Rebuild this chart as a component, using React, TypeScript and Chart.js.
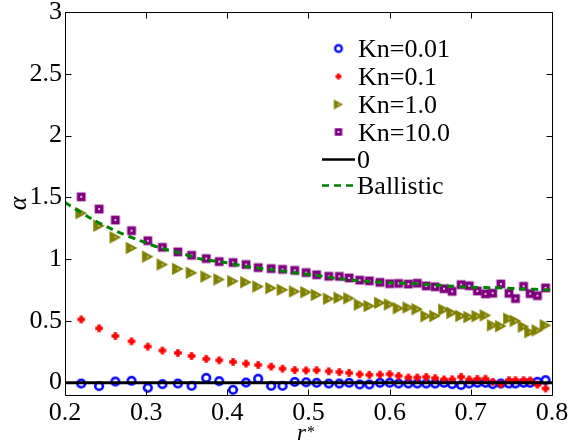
import React, { useEffect, useRef } from 'react';
import { Chart, registerables } from 'chart.js';

Chart.register(...registerables);

// ---- data ----
const rStar = [
  0.220, 0.242, 0.262, 0.282, 0.302, 0.320, 0.339, 0.356, 0.374, 0.390, 0.407,
  0.423, 0.438, 0.454, 0.468, 0.483, 0.497, 0.510, 0.525, 0.538, 0.550, 0.563,
  0.575, 0.588, 0.600, 0.611, 0.623, 0.634, 0.645, 0.656, 0.667, 0.677, 0.688,
  0.698, 0.708, 0.718, 0.727, 0.737, 0.747, 0.755, 0.765, 0.773, 0.782, 0.792,
];
const kn001 = [
  -0.007, -0.028, 0.009, 0.015, -0.041, -0.012, -0.007, -0.026, 0.039, 0.012, -0.058,
  0.001, 0.032, -0.026, -0.026, 0.006, 0.003, -0.001, -0.007, -0.007, -0.001, -0.015,
  -0.015, -0.001, -0.001, -0.007, -0.007, -0.007, -0.007, -0.007, -0.001, -0.012, -0.020,
  -0.007, -0.001, -0.001, -0.012, -0.007, -0.007, -0.007, -0.001, -0.001, 0.007, 0.020,
];
const kn01 = [
  0.512, 0.440, 0.378, 0.335, 0.292, 0.260, 0.240, 0.216, 0.192, 0.181, 0.168,
  0.154, 0.143, 0.130, 0.113, 0.102, 0.099, 0.101, 0.092, 0.086, 0.079, 0.067,
  0.063, 0.065, 0.069, 0.055, 0.042, 0.042, 0.046, 0.037, 0.026, 0.027, 0.047,
  0.026, 0.031, 0.032, 0.006, -0.012, 0.020, 0.020, 0.020, 0.018, -0.016, -0.047,
];
const kn1 = [
  1.372, 1.270, 1.176, 1.090, 1.020, 0.956, 0.921, 0.889, 0.859, 0.835, 0.821,
  0.813, 0.778, 0.765, 0.751, 0.738, 0.732, 0.710, 0.679, 0.687, 0.683, 0.632,
  0.620, 0.646, 0.633, 0.602, 0.608, 0.595, 0.538, 0.539, 0.591, 0.565, 0.540,
  0.531, 0.538, 0.544, 0.464, 0.457, 0.518, 0.500, 0.453, 0.408, 0.423, 0.464,
];
const kn10 = [
  1.504, 1.405, 1.316, 1.230, 1.149, 1.095, 1.058, 1.031, 1.004, 0.980, 0.972,
  0.956, 0.931, 0.923, 0.917, 0.909, 0.891, 0.873, 0.861, 0.860, 0.847, 0.830,
  0.824, 0.812, 0.801, 0.803, 0.798, 0.805, 0.783, 0.776, 0.760, 0.739, 0.793,
  0.784, 0.742, 0.719, 0.724, 0.798, 0.723, 0.681, 0.780, 0.721, 0.704, 0.767,
];
const ballisticR = [
  0.200, 0.232, 0.260, 0.2925, 0.319, 0.343, 0.367, 0.3955, 0.424, 0.456, 0.4885,
  0.507, 0.539, 0.569, 0.604, 0.634, 0.664, 0.697, 0.727, 0.759, 0.800,
];
const ballisticAlpha = [
  1.458, 1.329, 1.235, 1.149, 1.087, 1.047, 1.001, 0.974, 0.940, 0.913, 0.885,
  0.870, 0.840, 0.821, 0.808, 0.800, 0.786, 0.773, 0.768, 0.760, 0.750,
];
const zeroR = [0.2, 0.8];
const zeroAlpha = [0, 0];

const xTicks = [0.2, 0.3, 0.4, 0.5, 0.6, 0.7, 0.8];
const yTicks = [0, 0.5, 1, 1.5, 2, 2.5, 3];
const legendLabels = ['Kn=0.01', 'Kn=0.1', 'Kn=1.0', 'Kn=10.0', '0', 'Ballistic'];

const BLUE = '#0000ff';
const RED = '#ff0000';
const OLIVE = '#808000';
const PURPLE = '#800080';
const GREEN = '#008000';
const FONT = 'Liberation Serif';

function makeMarker(kind: string, s: number): HTMLCanvasElement {
  const size = 18;
  const c = document.createElement('canvas');
  c.width = size;
  c.height = size;
  const ctx = c.getContext('2d') as CanvasRenderingContext2D;
  const cx = size / 2;
  const cy = size / 2;
  if (kind === 'circle') {
    ctx.strokeStyle = BLUE;
    ctx.lineWidth = 2.6 * s;
    ctx.beginPath();
    ctx.arc(cx, cy, 3.8 * s, 0, Math.PI * 2);
    ctx.stroke();
  } else if (kind === 'plus') {
    ctx.fillStyle = RED;
    const a = 3.8 * s;
    const t = 1.7 * s;
    ctx.fillRect(cx - a, cy - t, 2 * a, 2 * t);
    ctx.fillRect(cx - t, cy - a, 2 * t, 2 * a);
  } else if (kind === 'tri') {
    ctx.fillStyle = OLIVE;
    const hw = 5.8 * s;
    const hh = 6.3 * s;
    ctx.beginPath();
    ctx.moveTo(cx - hw, cy - hh);
    ctx.lineTo(cx + hw, cy);
    ctx.lineTo(cx - hw, cy + hh);
    ctx.closePath();
    ctx.fill();
    ctx.fillStyle = '#ffffff';
    ctx.fillRect(cx - 0.6, cy - 0.6, 1.2, 1.2);
  } else if (kind === 'square') {
    ctx.fillStyle = PURPLE;
    const h = 4.4 * s;
    ctx.fillRect(cx - h, cy - h, 2 * h, 2 * h);
    ctx.fillStyle = '#ffffff';
    ctx.fillRect(cx - 1, cy - 0.5, 2, 1);
    ctx.fillRect(cx - 0.5, cy - 1, 1, 2);
  }
  return c;
}

function pts(xs: number[], ys: number[]) {
  return xs.map((x, i) => ({ x, y: ys[i] }));
}

export default function App() {
  const ref = useRef<HTMLCanvasElement | null>(null);

  useEffect(() => {
    const canvas = ref.current;
    if (!canvas) return;
    document.body.style.margin = '0';

    const mCircle = makeMarker('circle', 1);
    const mPlus = makeMarker('plus', 1);
    const mTri = makeMarker('tri', 1);
    const mSquare = makeMarker('square', 1);
    const lCircle = makeMarker('circle', 0.88);
    const lPlus = makeMarker('plus', 0.8);
    const lTri = makeMarker('tri', 0.8);
    const lSquare = makeMarker('square', 0.85);

    const decor = {
      id: 'decor',
      afterDatasetsDraw(chart: any) {
        const ctx = chart.ctx as CanvasRenderingContext2D;
        const a = chart.chartArea;
        const xs = chart.scales.x;
        const ys = chart.scales.y;
        ctx.save();
        // box
        ctx.strokeStyle = '#000';
        ctx.lineWidth = 1;
        const L = Math.round(a.left) + 0.5;
        const R = Math.round(a.right) + 0.5;
        const T = Math.round(a.top) + 0.5;
        const B = Math.round(a.bottom) + 0.5;
        ctx.beginPath();
        ctx.rect(L, T, R - L, B - T);
        ctx.stroke();
        // inward ticks
        const tl = 6;
        ctx.beginPath();
        xTicks.forEach((v) => {
          const px = Math.round(xs.getPixelForValue(v)) + 0.5;
          ctx.moveTo(px, B);
          ctx.lineTo(px, B - tl);
          ctx.moveTo(px, T);
          ctx.lineTo(px, T + tl);
        });
        yTicks.forEach((v) => {
          const py = Math.round(ys.getPixelForValue(v)) + 0.5;
          ctx.moveTo(L, py);
          ctx.lineTo(L + tl, py);
          ctx.moveTo(R, py);
          ctx.lineTo(R - tl, py);
        });
        ctx.stroke();

        // legend
        const rows = [48.5, 76.5, 104.5, 132, 159.5, 185.5];
        const mx = 338.5;
        const tx = 358;
        const marks = [lCircle, lPlus, lTri, lSquare];
        ctx.textAlign = 'left';
        ctx.textBaseline = 'alphabetic';
        legendLabels.forEach((lab, i) => {
          const y = rows[i];
          if (i < 4) {
            const m = marks[i];
            ctx.drawImage(m, mx - m.width / 2, y - m.height / 2);
          } else {
            ctx.strokeStyle = i === 4 ? '#000' : GREEN;
            ctx.lineWidth = 2.5;
            ctx.setLineDash(i === 4 ? [] : [7, 5]);
            ctx.beginPath();
            ctx.moveTo(322, y);
            ctx.lineTo(355, y);
            ctx.stroke();
            ctx.setLineDash([]);
          }
          ctx.fillStyle = '#000';
          ctx.font = '26px ' + FONT;
          ctx.fillText(lab, i >= 4 ? tx - 1 : tx, y + 8.5);
        });

        // axis titles
        ctx.fillStyle = '#000';
        ctx.save();
        ctx.translate(19, (a.top + a.bottom) / 2);
        ctx.rotate(-Math.PI / 2);
        ctx.font = 'italic 26px ' + FONT;
        ctx.textAlign = 'center';
        ctx.textBaseline = 'middle';
        ctx.fillText('α', 0, 0);
        ctx.restore();

        ctx.font = 'italic 23px ' + FONT;
        ctx.textAlign = 'left';
        ctx.textBaseline = 'alphabetic';
        const rx = 297;
        ctx.fillText('r', rx, 440);
        const rw = ctx.measureText('r').width;
        ctx.font = '16px ' + FONT;
        ctx.fillText('*', rx + rw + 1, 437);
        ctx.restore();
      },
    };

    const chart = new Chart(canvas, {
      type: 'scatter',
      data: {
        datasets: [
          {
            label: 'Ballistic',
            data: pts(ballisticR, ballisticAlpha),
            showLine: true,
            borderColor: GREEN,
            borderWidth: 3,
            borderDash: [7, 5],
            pointRadius: 0,
            tension: 0.3,
            order: 0,
          },
          {
            label: '0',
            data: pts(zeroR, zeroAlpha),
            showLine: true,
            borderColor: '#000',
            borderWidth: 3,
            pointRadius: 0,
            order: 1,
          },
          {
            label: 'Kn=10.0',
            data: pts(rStar, kn10),
            pointStyle: mSquare as any,
            pointRadius: 5,
            order: 2,
          },
          {
            label: 'Kn=1.0',
            data: pts(rStar, kn1),
            pointStyle: mTri as any,
            pointRadius: 5,
            order: 3,
          },
          {
            label: 'Kn=0.1',
            data: pts(rStar, kn01),
            pointStyle: mPlus as any,
            pointRadius: 5,
            order: 4,
          },
          {
            label: 'Kn=0.01',
            data: pts(rStar, kn001),
            pointStyle: mCircle as any,
            pointRadius: 5,
            order: 5,
          },
        ],
      },
      options: {
        responsive: false,
        animation: false,
        devicePixelRatio: 1,
        font: { family: FONT, size: 26 },
        layout: { padding: { left: 0, right: 17, top: 12, bottom: 0 } },
        plugins: {
          legend: { display: false },
          tooltip: { enabled: false },
        },
        scales: {
          x: {
            type: 'linear',
            min: 0.2,
            max: 0.8,
            grid: { display: false, drawTicks: false },
            border: { display: false },
            afterBuildTicks: (s: any) => {
              s.ticks = xTicks.map((v) => ({ value: v }));
            },
            afterFit: (s: any) => {
              s.height = 53;
              s.paddingLeft = 0;
              s.paddingRight = 0;
            },
            ticks: {
              color: '#000',
              padding: 3,
              maxRotation: 0,
              font: { family: FONT, size: 26 },
              callback: (v: any) => Number(v).toFixed(1),
            },
          },
          y: {
            type: 'linear',
            min: -0.1,
            max: 3,
            grid: { display: false, drawTicks: false },
            border: { display: false },
            afterBuildTicks: (s: any) => {
              s.ticks = yTicks.map((v) => ({ value: v }));
            },
            afterFit: (s: any) => {
              s.width = 65;
              s.paddingTop = 0;
              s.paddingBottom = 0;
            },
            ticks: {
              color: '#000',
              padding: 3,
              font: { family: FONT, size: 26 },
              callback: (v: any) => String(v),
            },
          },
        },
      },
      plugins: [decor],
    } as any);

    const t = setTimeout(() => chart.update(), 200);

    return () => {
      clearTimeout(t);
      chart.destroy();
    };
  }, []);

  return (
    <div style={{ position: 'fixed', left: 0, top: 0, width: 569, height: 448, background: '#fff' }}>
      <canvas ref={ref} width={569} height={448} style={{ display: 'block' }} />
    </div>
  );
}
